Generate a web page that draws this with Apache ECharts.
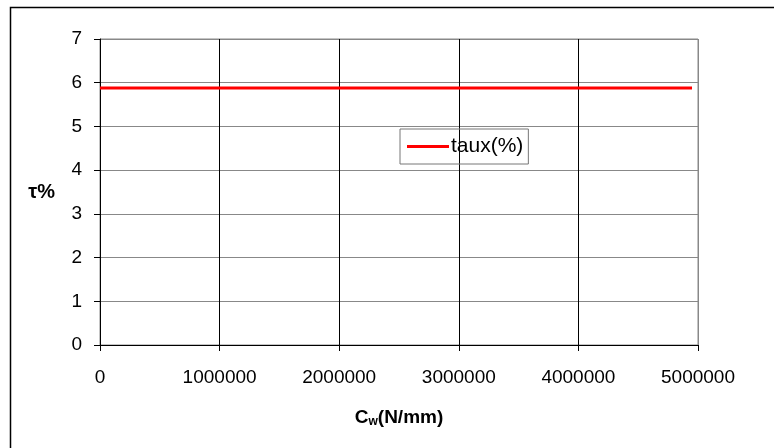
<!DOCTYPE html>
<html><head><meta charset="utf-8">
<script src="https://cdn.jsdelivr.net/npm/echarts@6/dist/echarts.min.js"></script>
<style>html,body{margin:0;padding:0;background:#fff}#c{width:774px;height:448px}</style>
</head><body><div id="c"></div>
<script>
const cwValues = [0, 4950000];
const tauxValues = [5.88, 5.88];
const seriesName = 'taux(%)';
const xTitle = 'C';
const xTitleSub = 'w';
const xTitleRest = '(N/mm)';
const yTitle = 'τ%';

const chart = echarts.init(document.getElementById('c'), null, {renderer: 'canvas'});
const font = 'Arial, "Liberation Sans", sans-serif';
chart.setOption({
  animation: false,
  backgroundColor: '#fff',
  graphic: [{
    type: 'rect', left: 8, top: 5, z: -1,
    shape: {width: 772, height: 450},
    style: {fill: 'none', stroke: '#000', lineWidth: 1.5}
  }],
  grid: {left: 100, top: 39, right: 76, bottom: 103, show: true, borderColor: '#888', borderWidth: 1},
  legend: {
    left: 400, top: 129,
    icon: 'rect', itemWidth: 42, itemHeight: 3, itemGap: 0,
    padding: [7, 5, 7, 7],
    borderColor: '#777', borderWidth: 1,
    textStyle: {fontFamily: font, fontSize: 21, color: '#000', padding: [0, 0, 0, -3]},
    data: [seriesName]
  },
  xAxis: {
    type: 'value', min: 0, max: 5000000, interval: 1000000,
    name: '{c|' + xTitle + '}{s|' + xTitleSub + '}{c|' + xTitleRest + '}',
    nameLocation: 'middle', nameGap: 62,
    nameTextStyle: {
      rich: {
        c: {fontFamily: font, fontSize: 19, fontWeight: 'bold', color: '#000'},
        s: {fontFamily: font, fontSize: 12, fontWeight: 'bold', color: '#000', padding: [9, 0, 0, 0]}
      }
    },
    axisLine: {lineStyle: {color: '#000', width: 1}},
    axisTick: {show: true, length: 6, lineStyle: {color: '#000'}},
    axisLabel: {fontFamily: font, fontSize: 19, color: '#000', margin: 23, formatter: v => String(v)},
    splitLine: {show: true, lineStyle: {color: ['#000', '#000', '#000', '#000', '#000', '#888'], width: 1}}
  },
  yAxis: {
    type: 'value', min: 0, max: 7, interval: 1,
    name: yTitle,
    nameLocation: 'middle', nameRotate: 0, nameGap: 45,
    nameTextStyle: {fontFamily: font, fontSize: 20, fontWeight: 'bold', color: '#000'},
    axisLine: {show: true, lineStyle: {color: '#000', width: 1}},
    axisTick: {show: true, length: 6, lineStyle: {color: '#000'}},
    axisLabel: {fontFamily: font, fontSize: 19, color: '#000', margin: 18},
    splitLine: {show: true, lineStyle: {color: '#888', width: 1}}
  },
  series: [{
    name: seriesName, type: 'line', symbol: 'none',
    data: cwValues.map((x, i) => [x, tauxValues[i]]),
    lineStyle: {color: '#ff0000', width: 3},
    itemStyle: {color: '#ff0000'}
  }]
});
</script></body></html>
